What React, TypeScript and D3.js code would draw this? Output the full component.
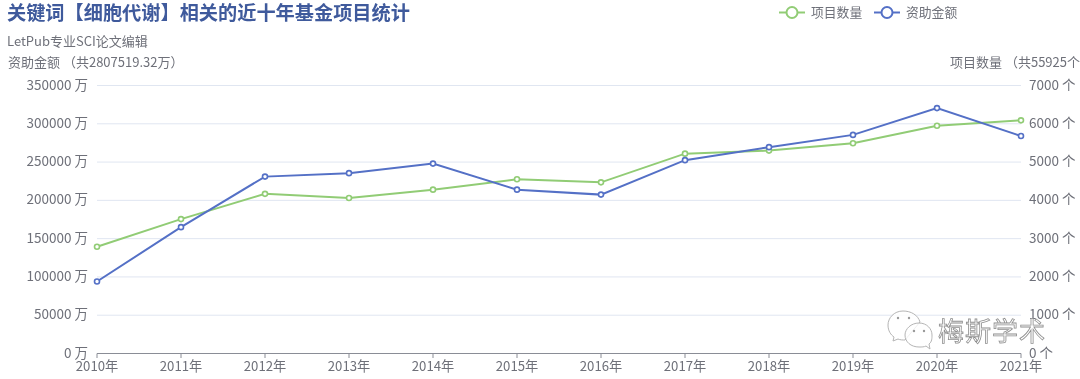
import React from "react";
import * as d3 from "d3";

const years = ["2010年","2011年","2012年","2013年","2014年","2015年","2016年","2017年","2018年","2019年","2020年","2021年"];
const projectCounts = [2790,3510,4170,4060,4280,4550,4470,5220,5300,5490,5950,6090];
const fundingAmounts = [94000,165000,231000,235500,248000,214000,207500,252500,269500,285500,320500,284000];
const leftTicks = [0,50000,100000,150000,200000,250000,300000,350000];
const rightTicks = [0,1000,2000,3000,4000,5000,6000,7000];

const W = 1080, H = 379;
const FONT = '"Noto Sans CJK SC","Noto Sans",sans-serif';
const GREEN = "#91cc75", BLUE = "#5470c6", TXT = "#6e7079";

export default function App() {
  const x = d3.scalePoint<string>().domain(years).range([97, 1021]);
  const yL = d3.scaleLinear().domain([0, 350000]).range([353.5, 85.5]);
  const yR = d3.scaleLinear().domain([0, 7000]).range([353.5, 85.5]);
  const lineL = d3.line<number>().x((_, i) => x(years[i])!).y(d => yL(d));
  const lineR = d3.line<number>().x((_, i) => x(years[i])!).y(d => yR(d));
  return (
    <svg width={W} height={H} viewBox={`0 0 ${W} ${H}`}
      style={{ position: "fixed", left: 0, top: 0, background: "#fff", fontFamily: FONT, filter: "blur(0.25px)" }}>
      <text x={7} y={20} fontSize={19.2} fontWeight={700} fill="#3f5a9c">关键词【细胞代谢】相关的近十年基金项目统计</text>
      <text x={7} y={46} fontSize={13} fill={TXT}>LetPub专业SCI论文编辑</text>
      <text x={8} y={67} fontSize={13} fill={TXT}>资助金额 （共2807519.32万）</text>
      <text x={1080} y={67} fontSize={13} fill={TXT} textAnchor="end">项目数量 （共55925个</text>

      {/* legend */}
      <g fill="#fff" strokeWidth={2}>
        <line x1={779} x2={805} y1={12.5} y2={12.5} stroke={GREEN} />
        <circle cx={792} cy={12.5} r={5.5} stroke={GREEN} />
        <line x1={874} x2={900} y1={12.5} y2={12.5} stroke={BLUE} />
        <circle cx={887} cy={12.5} r={5.5} stroke={BLUE} />
      </g>
      <text x={811} y={17} fontSize={12.8} fill={TXT}>项目数量</text>
      <text x={906} y={17} fontSize={12.8} fill={TXT}>资助金额</text>

      {/* grid */}
      {leftTicks.slice(1).map(t => (
        <line key={t} x1={97} x2={1021} y1={yL(t)} y2={yL(t)} stroke="#e0e6f1" />
      ))}
      {/* x axis */}
      <line x1={97} x2={1021} y1={353.5} y2={353.5} stroke="#8a8d96" />
      {years.map(y => (
        <g key={y}>
          <line x1={x(y)} x2={x(y)} y1={353.5} y2={358} stroke="#8a8d96" />
          <text x={x(y)} y={371} fontSize={13.2} fill={TXT} textAnchor="middle">{y}</text>
        </g>
      ))}
      {/* y axes */}
      {leftTicks.map(t => (
        <text key={t} x={88} y={yL(t) + 4} fontSize={13.5} fill={TXT} textAnchor="end">{t} 万</text>
      ))}
      {rightTicks.map(t => (
        <text key={t} x={1029} y={yR(t) + 4} fontSize={13.5} fill={TXT}>{t} 个</text>
      ))}

      {/* series */}
      <path d={lineR(projectCounts)!} fill="none" stroke={GREEN} strokeWidth={2} />
      <path d={lineL(fundingAmounts)!} fill="none" stroke={BLUE} strokeWidth={2} />
      {projectCounts.map((v, i) => (
        <circle key={i} cx={x(years[i])} cy={yR(v)} r={2.5} fill="#fff" stroke={GREEN} strokeWidth={1.6} />
      ))}
      {fundingAmounts.map((v, i) => (
        <circle key={i} cx={x(years[i])} cy={yL(v)} r={2.5} fill="#fff" stroke={BLUE} strokeWidth={1.6} />
      ))}

      {/* watermark */}
      <g fill="#fff" fillOpacity={0.8} stroke="#b5b5b5" strokeWidth={1}>
        <path d="M903 311 C894 311 888 318 888 325 C888 331 891 335 894 337 L893 341 L898 339 C900 340 903 340 905 340 L920 322 C918 315 911 311 903 311Z" />
        <path d="M919 323 C911 323 905 329 905 335 C905 342 911 347 919 347 C922 347 924 347 926 346 L930 349 L929 344 C932 342 932 338 932 335 C932 329 927 323 919 323Z" />
      </g>
      <g fill="#999">
        <circle cx={898} cy={318} r={1.2} /><circle cx={909} cy={318} r={1.2} />
        <circle cx={914} cy={331} r={1.2} /><circle cx={924} cy={331} r={1.2} />
      </g>
      <text x={938} y={341} fontSize={26} fill="#fff" stroke="#8f8f8f" strokeWidth={0.8} letterSpacing={1}>梅斯学术</text>
    </svg>
  );
}
